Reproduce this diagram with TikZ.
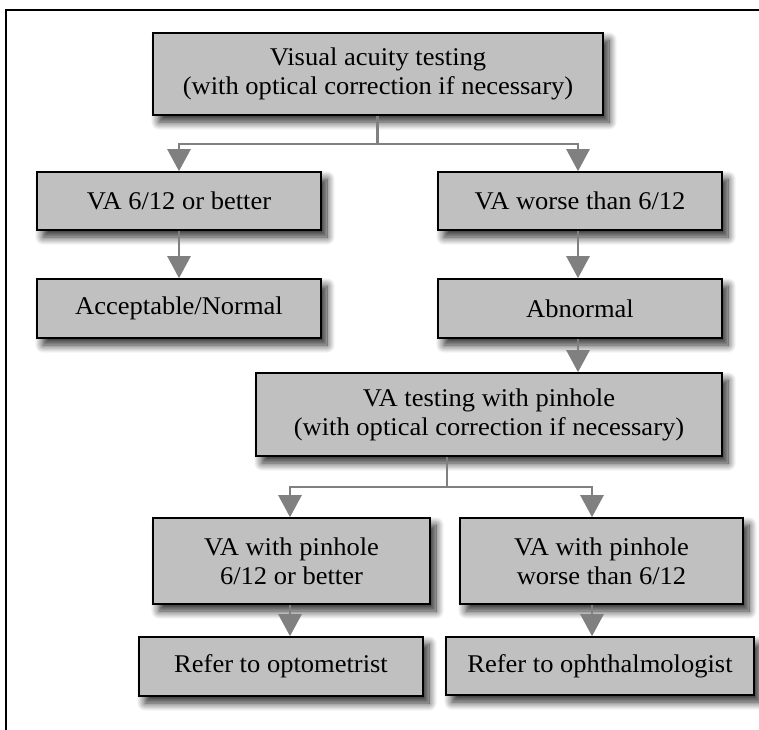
\documentclass[tikz,border=0pt]{standalone}
\usepackage{fontspec}
\setmainfont[FakeStretch=1.04]{Liberation Serif}
\usepackage{xcolor}
\usepackage{tikz}
\usetikzlibrary{arrows.meta,positioning,shapes,calc,shadows.blur}

\definecolor{boxgray}{RGB}{192,192,192}
\definecolor{arrgray}{RGB}{128,128,128}

\tikzset{
  flowbox/.style={rectangle, draw=black, line width=1.6pt, fill=boxgray,
    align=center, inner sep=0pt, font=\fontsize{25.5}{29}\selectfont,
    blur shadow={shadow xshift=6pt, shadow yshift=-7pt, shadow blur steps=12,
      shadow blur radius=8pt, shadow opacity=85}},
  link/.style={draw=arrgray, line width=2.6pt},
  arr/.style={link, -{Triangle[width=23pt, length=22pt]}}
}

\begin{document}
\begin{tikzpicture}[x=1pt, y=-1pt]

\useasboundingbox (0,0) rectangle (759,729);
\clip (0,0) rectangle (759,729);

% Outer frame (cut off on the right and bottom)
\draw[line width=2pt] (6,800) -- (6,9.5) -- (800,9.5);

% Boxes
\node[flowbox, minimum width=450pt, minimum height=82pt] (vat) at (378,74)
  {Visual acuity testing\\(with optical correction if necessary)};
\node[flowbox, minimum width=284pt, minimum height=58pt] (good) at (179,201) {VA 6/12 or better};
\node[flowbox, minimum width=284pt, minimum height=58pt] (worse) at (580,201) {VA worse than 6/12};
\node[flowbox, minimum width=284pt, minimum height=59pt] (normal) at (179,308.5) {Acceptable/Normal};
\node[flowbox, minimum width=284pt, minimum height=59pt] (abnormal) at (580,308.5) {Abnormal};
\node[flowbox, minimum width=466pt, minimum height=83pt] (pin) at (489,414.5)
  {VA testing with pinhole\\(with optical correction if necessary)};
\node[flowbox, minimum width=277pt, minimum height=86pt] (pgood) at (291.5,561)
  {VA with pinhole\\6/12 or better};
\node[flowbox, minimum width=283pt, minimum height=86pt] (pworse) at (601.5,561)
  {VA with pinhole\\worse than 6/12};
\node[flowbox, minimum width=284pt, minimum height=59pt] (optom) at (281,666.5) {Refer to optometrist};
\node[flowbox, minimum width=308pt, minimum height=58pt] (ophth) at (600,666) {Refer to ophthalmologist};

% Split points
\coordinate (split1) at (377.5,144);
\coordinate (split2) at (447,487);

% Connectors
\draw[link] (vat.south -| split1) -- (split1);
\draw[arr] (split1) -| (good.north);
\draw[arr] (split1) -| ([xshift=-2pt]worse.north);
\draw[arr] (good) -- (normal);
\draw[arr] ([xshift=-2pt]worse.south) -- ([xshift=-2pt]abnormal.north);
\draw[arr] ([xshift=-2pt]abnormal.south) -- ([xshift=-2pt]abnormal.south |- pin.north);
\draw[link] (pin.south -| split2) -- (split2);
\draw[arr] (split2) -| ([xshift=-1.5pt]pgood.north);
\draw[arr] (split2) -| ([xshift=-9.5pt]pworse.north);
\draw[arr] ([xshift=-1.5pt]pgood.south) -- ([xshift=-1.5pt]pgood.south |- optom.north);
\draw[arr] ([xshift=-9.5pt]pworse.south) -- ([xshift=-9.5pt]pworse.south |- ophth.north);

\end{tikzpicture}
\end{document}
